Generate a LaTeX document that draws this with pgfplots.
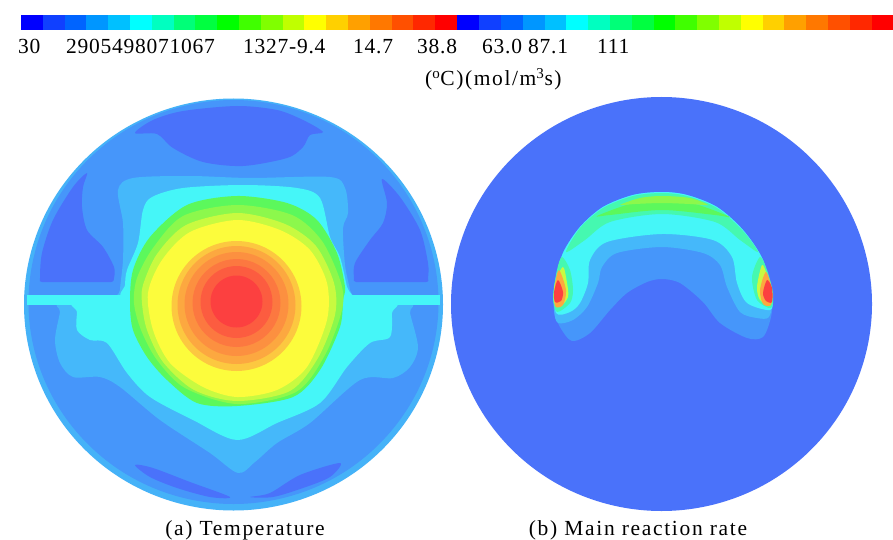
\documentclass[border=0pt]{standalone}
\usepackage{pgfplots}
\pgfplotsset{compat=1.18}
\usepackage{fontspec}
\setmainfont{Liberation Serif}[LetterSpace=3.5]
\newfontfamily\capf{Liberation Serif}[LetterSpace=7.8]
\newfontfamily\unitf{Liberation Serif}[LetterSpace=7.5]
\newcommand\poly[2]{\addplot[fill=#1,draw=none,smooth cycle,tension=.5] coordinates {#2};}
\newcommand\disc[2]{\addplot[fill=#1,draw=none,smooth cycle,tension=.63] coordinates {#2};}
\newcommand\rect[3]{\addplot[fill={rgb,255:#1},draw=none] coordinates {(#2,15)(#3,15)(#3,30)(#2,30)} -- cycle;}
\newcommand\lab[3]{\node[anchor=base west,inner sep=0pt,font=\fontsize{21.5}{23}\selectfont] at (axis cs:#1,#2) {#3};}
\definecolor{rim}{HTML}{45B2F8}
\definecolor{base}{HTML}{4696FA}
\definecolor{dark}{HTML}{4A72FA}
\definecolor{sky}{HTML}{45B8FA}
\definecolor{cyn}{HTML}{45F6F8}
\definecolor{tq}{HTML}{45F8B0}
\definecolor{grn}{HTML}{5CF85C}
\definecolor{lime}{HTML}{8CF84C}
\definecolor{limeb}{HTML}{C8FA40}
\definecolor{yel}{HTML}{FCFC3C}
\definecolor{o1}{HTML}{FCC840}
\definecolor{o2}{HTML}{FCA840}
\definecolor{o3}{HTML}{FC9040}
\definecolor{o4}{HTML}{FC7840}
\definecolor{o5}{HTML}{FC5C40}
\definecolor{red1}{HTML}{FC4040}
\begin{document}
\begin{tikzpicture}
\begin{axis}[scale only axis,width=893pt,height=540pt,xmin=0,xmax=893,ymin=0,ymax=540,y dir=reverse,hide axis]
\addplot[fill=white,draw=none] coordinates {(0,0)(893,0)(893,540)(0,540)} -- cycle;
% colour bar, first half
\rect{red,0;green,0;blue,255}{21}{42.8}
\rect{red,16;green,64;blue,255}{42.8}{64.6}
\rect{red,0;green,100;blue,255}{64.6}{86.4}
\rect{red,0;green,150;blue,255}{86.4}{108.2}
\rect{red,0;green,192;blue,255}{108.2}{130}
\rect{red,0;green,255;blue,255}{130}{151.8}
\rect{red,0;green,255;blue,192}{151.8}{173.6}
\rect{red,0;green,255;blue,120}{173.6}{195.4}
\rect{red,0;green,255;blue,64}{195.4}{217.2}
\rect{red,0;green,255;blue,0}{217.2}{239}
\rect{red,64;green,255;blue,0}{239}{260.8}
\rect{red,128;green,255;blue,0}{260.8}{282.6}
\rect{red,192;green,255;blue,0}{282.6}{304.4}
\rect{red,255;green,255;blue,0}{304.4}{326.2}
\rect{red,255;green,208;blue,0}{326.2}{348}
\rect{red,255;green,160;blue,0}{348}{369.8}
\rect{red,255;green,120;blue,0}{369.8}{391.6}
\rect{red,255;green,80;blue,0}{391.6}{413.4}
\rect{red,255;green,40;blue,0}{413.4}{435.2}
\rect{red,255;green,0;blue,0}{435.2}{457.3}
% colour bar, second half
\rect{red,0;green,0;blue,255}{457.3}{479.1}
\rect{red,16;green,64;blue,255}{479.1}{500.9}
\rect{red,0;green,100;blue,255}{500.9}{522.7}
\rect{red,0;green,150;blue,255}{522.7}{544.5}
\rect{red,0;green,192;blue,255}{544.5}{566.3}
\rect{red,0;green,255;blue,255}{566.3}{588.1}
\rect{red,0;green,255;blue,192}{588.1}{609.9}
\rect{red,0;green,255;blue,120}{609.9}{631.7}
\rect{red,0;green,255;blue,64}{631.7}{653.5}
\rect{red,0;green,255;blue,0}{653.5}{675.3}
\rect{red,64;green,255;blue,0}{675.3}{697.1}
\rect{red,128;green,255;blue,0}{697.1}{718.9}
\rect{red,192;green,255;blue,0}{718.9}{740.7}
\rect{red,255;green,255;blue,0}{740.7}{762.5}
\rect{red,255;green,208;blue,0}{762.5}{784.3}
\rect{red,255;green,160;blue,0}{784.3}{806.1}
\rect{red,255;green,120;blue,0}{806.1}{827.9}
\rect{red,255;green,80;blue,0}{827.9}{849.7}
\rect{red,255;green,40;blue,0}{849.7}{871.5}
\rect{red,255;green,0;blue,0}{871.5}{893}
% (a) temperature
\disc{rim}{(443,304.5)(414.9,407.5)(338.3,482.9)(233.5,510.5)(128.7,482.9)(52.1,407.5)(24,304.5)(52.1,201.5)(128.7,126.1)(233.5,98.5)(338.3,126.1)(414.9,201.5)}
\disc{base}{(438.5,302.5)(411,403)(336,477)(233.5,504)(131,477)(56,403)(28.5,302.5)(56,201)(131,127)(233.5,100)(336,127)(411,201)}
\poly{dark}{(135,133)(153,120)(183,111)(237,106)(277,110)(303,120)(323,132)(310,135)(303,147)(287,158)(243,166)(203,162)(173,148)(157,134)}
\poly{dark}{(87,173)(73,187)(53,220)(42,253)(40,278)(42,282)(60,282)(90,282)(111,282)(114,278)(114,267)(103,247)(87,230)(82,207)(83,187)}
\poly{dark}{(382,179)(400,197)(420,230)(428,263)(428,278)(426,282)(400,282)(375,282)(356,282)(354,278)(355,263)(370,240)(383,223)(387,203)}
\poly{dark}{(135,465)(153,468)(190,482)(230,497)(210,497)(177,488)(150,477)}
\poly{dark}{(250,497)(270,493)(300,475)(340,463)(330,477)(303,488)(273,497)}
\poly{sky}{(60,304)(60,312)(55,340)(60,363)(73,377)(100,377)(120,387)(160,420)(210,453)(238,473)(255,462)(277,443)(310,423)(360,380)(393,378)(410,367)(418,347)(410,313)(410,304)(350,300)(240,300)(120,300)}
\poly{sky}{(118,190)(133,178)(190,176)(250,178)(330,177)(345,188)(348,213)(343,228)(345,265)(350,290)(350,298)(300,298)(200,298)(122,298)(120,290)(123,260)(123,223)}
\addplot[fill=cyn,draw=none] coordinates {(27,295)(440,295)(440,305)(27,305)} -- cycle;
\poly{cyn}{(125,298)(125,285)(127,270)(138,243)(143,210)(152,197)(183,188)(243,185)(297,188)(320,198)(330,237)(340,257)(347,287)(350,298)(300,298)(200,298)}
\poly{cyn}{(77,302)(77,312)(77,330)(90,340)(107,343)(127,373)(150,397)(193,420)(237,440)(277,423)(320,403)(347,367)(370,343)(390,337)(392,313)(392,302)(300,300)(170,300)}
\poly{grn}{(237,196)(187,205)(150,237)(133,270)(130,303)(133,330)(147,357)(167,380)(197,403)(237,406)(293,397)(320,370)(340,327)(343,300)(345,287)(337,253)(317,220)(287,203)}
\poly{lime}{(237,205)(183,216)(153,248)(137,278)(134,303)(141,330)(157,360)(185,388)(237,404)(296,392)(325,355)(342,310)(341,283)(322,241)(292,215)}
\poly{limeb}{(237,213)(186,225)(157,254)(143,285)(142,303)(147,330)(163,362)(194,390)(237,401)(290,391)(318,358)(335,315)(334,283)(316,246)(285,224)}
\poly{yel}{(237,220)(190,232)(162,260)(148,293)(153,330)(170,363)(203,387)(237,397)(277,390)(307,367)(327,320)(327,283)(310,250)(280,230)}
\disc{o1}{(301.5,306)(292.8,338.5)(269,362.3)(236.5,371)(204,362.3)(180.2,338.5)(171.5,306)(180.2,273.5)(204,249.7)(236.5,241)(269,249.7)(292.8,273.5)}
\disc{o2}{(295.5,305)(287.6,334.5)(266,356.1)(236.5,364)(207,356.1)(185.4,334.5)(177.5,305)(185.4,275.5)(207,253.9)(236.5,246)(266,253.9)(287.6,275.5)}
\disc{o3}{(288.5,304)(281.5,330)(262.5,349)(236.5,356)(210.5,349)(191.5,330)(184.5,304)(191.5,278)(210.5,259)(236.5,252)(262.5,259)(281.5,278)}
\disc{o4}{(280.5,303)(274.6,325)(258.5,341.1)(236.5,347)(214.5,341.1)(198.4,325)(192.5,303)(198.4,281)(214.5,264.9)(236.5,259)(258.5,264.9)(274.6,281)}
\disc{o5}{(272.5,302)(267.7,320)(254.5,333.2)(236.5,338)(218.5,333.2)(205.3,320)(200.5,302)(205.3,284)(218.5,270.8)(236.5,266)(254.5,270.8)(267.7,284)}
\disc{red1}{(262.5,301.5)(259,314.5)(249.5,324)(236.5,327.5)(223.5,324)(214,314.5)(210.5,301.5)(214,288.5)(223.5,279)(236.5,275.5)(249.5,279)(259,288.5)}
% (b) main reaction rate
\disc{dark}{(872,304)(843.8,407.5)(766.8,483.3)(661.5,511)(556.3,483.3)(479.2,407.5)(451,304)(479.2,200.5)(556.3,124.7)(661.5,97)(766.8,124.7)(843.8,200.5)}
\poly{base}{(560,327)(572,341)(590,333)(610,310)(627,293)(647,282)(662,279)(680,283)(703,302)(720,323)(747,338)(763,337)(771,317)(772,297)(763,260)(743,230)(717,207)(687,195)(662,192)(633,195)(603,207)(580,227)(563,253)(555,283)(554,310)}
\poly{sky}{(558,323)(573,320)(587,307)(598,283)(602,267)(617,253)(662,247)(703,253)(720,265)(727,287)(740,312)(757,318)(769,317)(772,297)(763,260)(743,230)(717,207)(687,195)(662,192)(633,195)(603,207)(580,227)(563,253)(555,283)(554,310)}
\poly{cyn}{(556,313)(570,312)(580,303)(588,283)(590,260)(607,242)(662,234)(713,240)(732,257)(737,283)(747,303)(770,310)(772,297)(763,260)(743,230)(717,207)(687,195)(662,192)(633,195)(603,207)(580,227)(563,253)(555,283)}
\poly{tq}{(566,252)(585,240)(610,222)(662,214)(715,222)(740,240)(758,252)(743,231)(717,208)(687,196)(662,193)(633,196)(603,208)(580,228)}
\poly{grn}{(597,216)(630,204)(662,200)(695,204)(730,217)(715,215)(662,210)(610,215)}
\poly{lime}{(620,205)(640,198)(662,196)(690,198)(708,205)(690,204)(662,203)(635,204)}
\poly{tq}{(562,257)(570,270)(573,290)(570,303)(557,312)(553,297)(557,270)}
\poly{limeb}{(563,267)(567,283)(568,297)(560,307)(554,302)(555,283)}
\poly{o2}{(559,270)(566,290)(563,305)(555,306)(555,285)}
\poly{red1}{(558,280)(563,292)(561,301)(555,302)(554,292)}
\poly{tq}{(760,257)(752,277)(757,300)(771,308)(773,293)(767,270)}
\poly{limeb}{(762,265)(757,287)(760,300)(770,305)(772,293)(767,275)}
\poly{o2}{(766,272)(760,290)(763,304)(771,305)(772,290)}
\poly{red1}{(767,280)(763,293)(766,301)(772,302)(772,288)}
% text
\lab{18}{53.5}{30}
\lab{66}{53.5}{2905498071067}
\lab{243}{53.5}{1327-9.4}
\lab{353}{53.5}{14.7}
\lab{417}{53.5}{38.8}
\lab{482}{53.5}{63.0}
\lab{528}{53.5}{87.1}
\lab{597}{53.5}{111}
\lab{425}{86}{\unitf (\textsuperscript{o}C)(mol/m\textsuperscript{3}s)}
\node[anchor=base,inner sep=0pt,font=\fontsize{21.5}{23}\selectfont\capf] at (axis cs:245,535) {(a) Temperature};
\node[anchor=base,inner sep=0pt,font=\fontsize{21.5}{23}\selectfont\capf] at (axis cs:638,535) {(b) Main reaction rate};
\end{axis}
\end{tikzpicture}
\end{document}
